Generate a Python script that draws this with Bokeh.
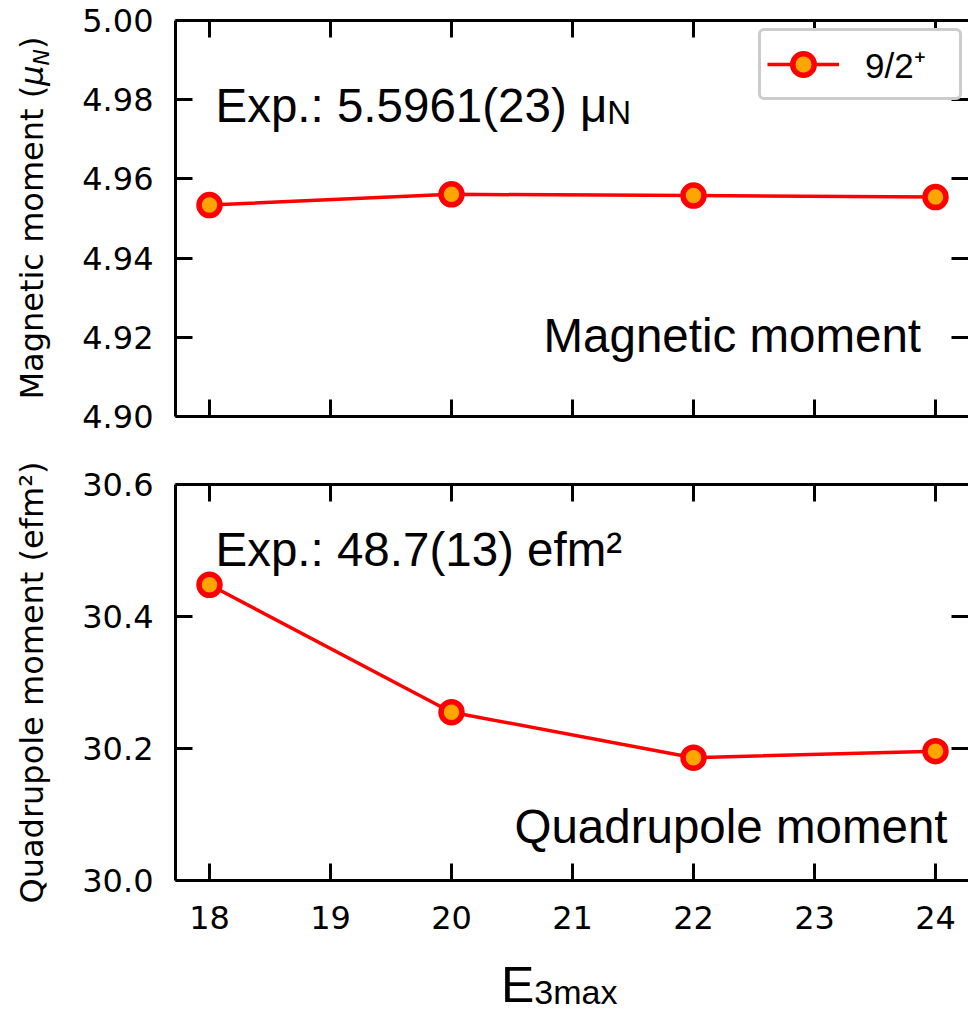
from bokeh.plotting import figure
from bokeh.models import (Range1d, LinearAxis, FixedTicker, PrintfTickFormatter,
                          Label, Legend, LegendItem, Div)
from bokeh.layouts import column, row
from bokeh.embed import file_html
from bokeh.resources import INLINE

# ---------------- data ----------------
e3max = [18, 20, 22, 24]
magnetic_moment = [4.9534, 4.9561, 4.9558, 4.9554]
quadrupole_moment = [30.448, 30.255, 30.186, 30.196]

x_ticks = [18, 19, 20, 21, 22, 23, 24]
mag_ticks = [4.90, 4.92, 4.94, 4.96, 4.98, 5.00]
quad_ticks = [30.0, 30.2, 30.4, 30.6]

state_label = "9/2\u207a"
mag_exp_text = "Exp.: 5.5961(23) \u03bc"
mag_exp_sub = "N"
quad_exp_text = "Exp.: 48.7(13) efm\u00b2"
mag_title = "Magnetic moment"
quad_title = "Quadrupole moment"
mag_ylabel_main = "Magnetic moment ("
mag_ylabel_mu = "\u03bc"
mag_ylabel_sub = "N"
quad_ylabel = "Quadrupole moment (efm\u00b2)"
xlabel_main = "E"
xlabel_sub = "3max"

# ---------------- style ----------------
TICK_FONT = "DejaVu Sans"
ANN_FONT = "Liberation Sans"
RED = "#ff0000"
ORANGE = "#ffa500"

X_START, X_END = 17.719, 24.2727
YLAB_W = 60


# pixel -> data helpers for annotation placement (layout only)
def xd(px):
    return 18 + (px - 209) / 121.0


def yd1(py):
    return 5.00 - (py - 20) / 3960.0


def yd2(py):
    return 30.6 - (py - 484) / 660.0


def style_axis(ax, ticks, show_labels, fmt=None):
    ax.ticker = FixedTicker(ticks=ticks)
    ax.axis_line_width = 3
    ax.axis_line_color = "black"
    ax.major_tick_line_width = 3
    ax.major_tick_line_color = "black"
    ax.major_tick_in = 17
    ax.major_tick_out = 0
    ax.minor_tick_line_color = None
    ax.major_label_text_font = TICK_FONT
    ax.major_label_text_color = "black"
    if fmt is not None:
        ax.formatter = PrintfTickFormatter(format=fmt)
    if show_labels:
        ax.major_label_text_font_size = "32px"
    else:
        ax.major_label_text_font_size = "0px"
        ax.major_label_text_color = None
        ax.major_label_standoff = 0


def make_fig(width, left, yr, height, top, bottom, yticks, yfmt, show_x_labels):
    p = figure(width=width, height=height,
               x_range=Range1d(X_START, X_END), y_range=Range1d(*yr),
               output_backend="svg", toolbar_location=None,
               min_border_left=left, min_border_right=0,
               min_border_top=top, min_border_bottom=bottom)
    p.xgrid.visible = False
    p.ygrid.visible = False
    p.outline_line_color = None
    p.background_fill_color = "white"
    p.border_fill_color = "white"

    style_axis(p.xaxis[0], x_ticks, show_x_labels)
    if show_x_labels:
        p.xaxis[0].major_label_standoff = 25
    style_axis(p.yaxis[0], yticks, True, yfmt)
    p.yaxis[0].major_label_standoff = 22

    top_ax = LinearAxis()
    style_axis(top_ax, x_ticks, False)
    p.add_layout(top_ax, "above")

    right_ax = LinearAxis()
    style_axis(right_ax, yticks, False)
    right_ax.axis_line_color = None
    p.add_layout(right_ax, "right")
    return p


# ---------------- top panel ----------------
p1 = make_fig(968 - YLAB_W, 175 - YLAB_W, (4.90, 5.00), 450, 20, 34,
              mag_ticks, "%.2f", False)
r_line = p1.line(e3max, magnetic_moment, line_color=RED, line_width=3.5)
r_pts = p1.scatter(e3max, magnetic_moment, size=21, fill_color=ORANGE,
                   line_color=RED, line_width=5.5)

p1.add_layout(Label(x=xd(215), y=yd1(105), text=mag_exp_text, text_font=ANN_FONT,
                    text_font_size="47.5px", text_color="black",
                    text_baseline="alphabetic", text_align="left"))
p1.add_layout(Label(x=xd(606.7), y=yd1(112), text=mag_exp_sub, text_font=ANN_FONT,
                    text_font_size="33px", text_color="black",
                    text_baseline="alphabetic", text_align="left"))
p1.add_layout(Label(x=xd(543), y=yd1(335), text=mag_title, text_font=ANN_FONT,
                    text_font_size="47.5px", text_color="black",
                    text_baseline="alphabetic", text_align="left"))

leg = Legend(items=[LegendItem(label=state_label, renderers=[r_line, r_pts])],
             location=(583, 316), glyph_width=72, glyph_height=54, padding=6,
             spacing=0, label_standoff=26, label_width=88,
             label_text_font=ANN_FONT, label_text_font_size="35px",
             label_text_color="black",
             border_line_color="#cccccc", border_line_width=3, border_line_alpha=1.0,
             background_fill_color="white", background_fill_alpha=1.0, margin=0)
if "border_radius" in Legend.properties():
    leg.border_radius = 6
p1.add_layout(leg)

# y-axis label of the top panel (HTML text, rotated, with italic mu and subscript N)
ylab_html = (
    '<div style="position:relative;width:%dpx;height:450px;">'
    '<div style="position:absolute;left:12px;top:416px;width:396px;height:40px;'
    'line-height:40px;transform-origin:0 0;transform:rotate(-90deg);text-align:center;'
    "white-space:nowrap;font-family:'DejaVu Sans';font-size:32px;color:black;\">"
    '%s<span style="font-style:italic;">%s</span>'
    '<span style="font-style:italic;font-size:22px;position:relative;top:6px;">%s</span>)'
    '</div></div>'
) % (YLAB_W, mag_ylabel_main, mag_ylabel_mu, mag_ylabel_sub)
ylab_div = Div(text=ylab_html, width=YLAB_W, height=450, margin=0)

# ---------------- bottom panel ----------------
p2 = make_fig(968, 175, (30.0, 30.6), 490, 34, 60, quad_ticks, "%.1f", True)
p2.line(e3max, quadrupole_moment, line_color=RED, line_width=3.5)
p2.scatter(e3max, quadrupole_moment, size=21, fill_color=ORANGE,
           line_color=RED, line_width=5.5)
p2.yaxis[0].axis_label = quad_ylabel
p2.yaxis[0].axis_label_text_font = TICK_FONT
p2.yaxis[0].axis_label_text_font_size = "32px"
p2.yaxis[0].axis_label_text_font_style = "normal"
p2.yaxis[0].axis_label_text_color = "black"
p2.yaxis[0].axis_label_standoff = 28

p2.add_layout(Label(x=xd(215), y=yd2(549), text=quad_exp_text, text_font=ANN_FONT,
                    text_font_size="47.5px", text_color="black",
                    text_baseline="alphabetic", text_align="left"))
p2.add_layout(Label(x=xd(514), y=yd2(826), text=quad_title, text_font=ANN_FONT,
                    text_font_size="47.5px", text_color="black",
                    text_baseline="alphabetic", text_align="left"))

# x-axis label (HTML text with subscript)
xlab_html = (
    '<div style="position:relative;width:968px;height:76px;">'
    '<div style="position:absolute;left:501px;top:25px;white-space:nowrap;'
    "font-family:'Liberation Sans';font-size:50px;line-height:40px;color:black;\">"
    '%s<span style="font-size:34px;position:relative;top:2px;">%s</span>'
    '</div></div>'
) % (xlabel_main, xlabel_sub)
xlab_div = Div(text=xlab_html, width=968, height=76, margin=0)

layout = column(row(ylab_div, p1, spacing=0), p2, xlab_div, spacing=0)
open("out.html", "w").write(file_html(layout, INLINE))
